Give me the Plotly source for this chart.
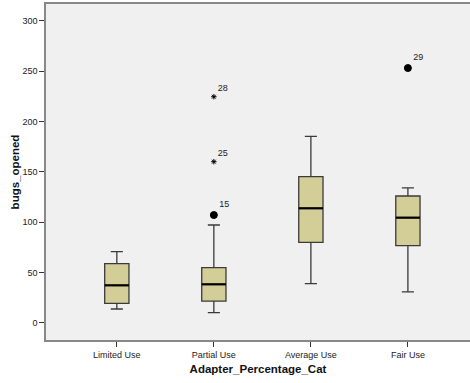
import plotly.graph_objects as go

categories = ["Limited Use", "Partial Use", "Average Use", "Fair Use"]
lower_whisker = [13.9, 10.2, 39.0, 30.8]
q1 = [19.5, 21.8, 80.1, 76.8]
median = [37.4, 38.4, 113.9, 104.6]
q3 = [58.9, 54.9, 145.3, 126.1]
upper_whisker = [70.8, 97.3, 185.4, 134.1]

# outliers: (category index, value, case label, kind)
out_cat = [1, 1, 1, 3]
out_val = [107.2, 160.2, 224.7, 253.2]
out_lab = ["15", "25", "28", "29"]
out_kind = ["dot", "star", "star", "dot"]

yticks = [0, 50, 100, 150, 200, 250, 300]

xpos = list(range(len(categories)))
bw = 0.25

fig = go.Figure()
fig.add_trace(go.Box(
    x=xpos, q1=q1, median=median, q3=q3,
    lowerfence=lower_whisker, upperfence=upper_whisker,
    width=bw, whiskerwidth=0.5,
    fillcolor="#D3CE97", line=dict(color="#3a3a3a", width=1.3),
    boxpoints=False, showlegend=False, hoverinfo="skip"))

mx, my = [], []
for i, m in zip(xpos, median):
    mx += [i - bw / 2, i + bw / 2, None]
    my += [m, m, None]
fig.add_trace(go.Scatter(x=mx, y=my, mode="lines",
                         line=dict(color="black", width=2.2),
                         showlegend=False, hoverinfo="skip"))

for kind, sym, sz in [("dot", "circle", 7), ("star", "asterisk-open", 4.5)]:
    xs = [c for c, k in zip(out_cat, out_kind) if k == kind]
    ys = [v for v, k in zip(out_val, out_kind) if k == kind]
    ts = [t for t, k in zip(out_lab, out_kind) if k == kind]
    fig.add_trace(go.Scatter(
        x=xs, y=ys, mode="markers+text", text=ts,
        textposition="top right",
        textfont=dict(family="Liberation Sans, Arial", size=9, color="#222"),
        marker=dict(symbol=sym, size=sz, color="black",
                    line=dict(color="black", width=1)),
        showlegend=False, hoverinfo="skip", cliponaxis=False))

fig.update_layout(
    width=470, height=383,
    margin=dict(l=46, r=0, t=4, b=43, autoexpand=False),
    paper_bgcolor="white", plot_bgcolor="#F0F0F0",
    font=dict(family="Liberation Sans, Arial", size=9, color="#222"),
)
fig.update_xaxes(
    range=[-0.73, 3.64], tickvals=xpos, ticktext=categories,
    ticks="outside", ticklen=5, tickcolor="#333", automargin=False,
    showline=True, linecolor="#888", linewidth=1.5, mirror=True,
    showgrid=False, zeroline=False,
    title=dict(text="<b>Adapter_Percentage_Cat</b>", standoff=6,
               font=dict(size=11.5, color="#111")),
)
fig.update_yaxes(
    range=[-16.9, 316.8], tickvals=yticks,
    ticks="outside", ticklen=5, tickcolor="#333", automargin=False,
    showline=True, linecolor="#888", linewidth=1.5, mirror=True,
    showgrid=False, zeroline=False,
    title=dict(text="<b>bugs_opened</b>", standoff=0,
               font=dict(size=11.5, color="#111")),
)

fig.write_html("out.html", config={"displayModeBar": False},
               post_script="document.body.style.margin='0';")
